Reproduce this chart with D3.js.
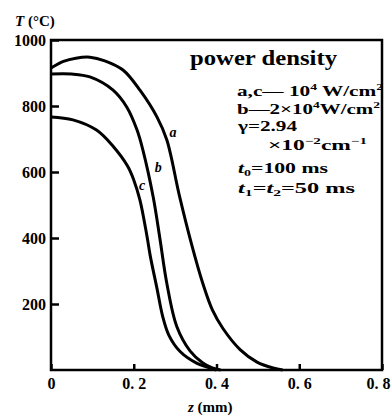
<!DOCTYPE html>
<html>
  <head>
    <meta charset="UTF-8">
    <script src="https://d3js.org/d3.v7.min.js"></script>
    <style>
        body {
            margin: 0;
            background: #fff;
        }
        svg {
            display: block;
        }
        text {
            font-family: "Liberation Serif", "DejaVu Serif", serif;
            font-weight: bold;
            fill: #000;
        }
        .tick text {
            font-size: 16px;
        }
        .tick line {
            stroke: #000;
            stroke-width: 2.5px;
        }
        .curve {
            fill: none;
            stroke: #000;
            stroke-width: 3px;
        }
    </style>
  </head>
  <body>
    <script>
        // curve a (10^4 W/cm2, a,c series), b (2x10^4 W/cm2), c
        let aZ = [0, 0.03, 0.06, 0.094, 0.13, 0.174, 0.215, 0.256, 0.28, 0.31, 0.34, 0.367, 0.39, 0.416, 0.457, 0.498, 0.537, 0.56]
        let aT = [915, 935, 945, 948, 937, 909, 848, 767, 697, 530, 380, 262, 182, 125, 62, 24, 6, 0]
        let bZ = [0, 0.05, 0.094, 0.15, 0.183, 0.208, 0.222, 0.247, 0.263, 0.28, 0.304, 0.336, 0.367, 0.39, 0.41]
        let bT = [897, 897, 888, 848, 797, 727, 667, 524, 400, 262, 132, 58, 21, 6, 0]
        let cZ = [0, 0.053, 0.11, 0.15, 0.185, 0.2, 0.215, 0.232, 0.24, 0.256, 0.27, 0.285, 0.312, 0.353, 0.384, 0.4]
        let cT = [767, 758, 727, 678, 618, 576, 515, 405, 345, 248, 162, 105, 56, 20, 6, 0]

        let curveNames = ['a', 'b', 'c']
        let labelZ = [0.295, 0.259, 0.22]
        let labelT = [706, 600, 545]

        let xTicks = [0, 0.2, 0.4, 0.6, 0.8]
        let xTickLabels = ['0', '0. 2', '0. 4', '0. 6', '0. 8']
        let yTicks = [200, 400, 600, 800, 1000]

        let legendLines = [
            [['a,c— 10'], ['4', 'sup'], [' W/cm'], ['2', 'sup']],
            [['b—2×10'], ['4', 'sup'], ['W/cm'], ['2', 'sup']],
            [['γ=2.94']],
            [['×10'], ['−2', 'sup'], ['cm'], ['−1', 'sup']],
            [['t'], ['0', 'sub'], ['=100 ms']],
            [['t'], ['1', 'sub'], ['=t'], ['2', 'sub'], ['=50 ms']]
        ]
        let legendX = [237, 237, 238, 268, 238, 238]
        let legendY = [96, 114, 131, 150, 173, 193]
        let legendW = [146, 143, 59, 99, 90, 117]

        let svgWidth = 392, svgHeight = 417
        let margin = {top: 40, right: 10, bottom: 47, left: 51}
        let width = svgWidth - margin.left - margin.right
        let height = svgHeight - margin.top - margin.bottom

        let x = d3.scaleLinear().domain([0, 0.8]).range([0, width])
        let y = d3.scaleLinear().domain([0, 1000]).range([height, 0])

        let svg = d3.select('body')
            .append('svg')
            .attr('width', svgWidth)
            .attr('height', svgHeight)

        let g = svg.append('g')
            .attr('transform', `translate(${margin.left}, ${margin.top})`)

        // axes with inward ticks
        let xAxis = g.append('g')
            .attr('transform', `translate(0, ${height})`)
            .call(d3.axisBottom(x).tickValues(xTicks).tickSize(-6).tickPadding(8)
                .tickFormat((d, i) => xTickLabels[i]))
            .call(a => a.select('.domain').remove())
        // last label sits on the right edge, nudge it in
        xAxis.selectAll('.tick text').filter(d => d === 0.8).attr('dx', -4)

        g.append('g')
            .call(d3.axisLeft(y).tickValues(yTicks).tickSize(-8).tickPadding(5).tickFormat(d3.format('d')))
            .call(a => a.select('.domain').remove())

        g.append('rect')
            .attr('x', 0)
            .attr('y', 0)
            .attr('width', width)
            .attr('height', height)
            .attr('fill', 'none')
            .attr('stroke', '#000')
            .attr('stroke-width', 2.5)

        let line = d3.line()
            .x(d => x(d[0]))
            .y(d => y(d[1]))
            .curve(d3.curveCatmullRom.alpha(0.5))

        let series = [d3.zip(aZ, aT), d3.zip(bZ, bT), d3.zip(cZ, cT)]

        g.selectAll('.curve')
            .data(series)
            .enter()
            .append('path')
            .attr('class', 'curve')
            .attr('d', line)

        g.selectAll('.curveLabel')
            .data(curveNames)
            .enter()
            .append('text')
            .attr('class', 'curveLabel')
            .attr('x', (d, i) => x(labelZ[i]))
            .attr('y', (d, i) => y(labelT[i]))
            .attr('text-anchor', 'middle')
            .style('font-size', '14px')
            .style('font-style', 'italic')
            .text(d => d)

        // legend block
        g.append('text')
            .attr('x', 190 - margin.left)
            .attr('y', 65 - margin.top)
            .attr('textLength', 147)
            .attr('lengthAdjust', 'spacingAndGlyphs')
            .style('font-size', '20px')
            .text('power density')

        legendLines.forEach((parts, i) => {
            let t = g.append('text')
                .attr('x', legendX[i] - margin.left)
                .attr('y', legendY[i] - margin.top)
                .attr('textLength', legendW[i])
                .attr('lengthAdjust', 'spacingAndGlyphs')
                .style('font-size', '14px')
            let shift = 0
            parts.forEach(p => {
                let target = p[1] === 'sup' ? -6 : p[1] === 'sub' ? 3 : 0
                t.append('tspan')
                    .attr('dy', target - shift)
                    .style('font-size', p[1] ? '9px' : '14px')
                    .style('font-style', p[0] === 't' || p[0] === '=t' ? 'italic' : 'normal')
                    .text(p[0])
                shift = target
            })
        })

        // axis titles
        let yTitle = svg.append('text')
            .attr('x', 15)
            .attr('y', 26)
            .style('font-size', '15px')
        yTitle.append('tspan').style('font-style', 'italic').text('T')
        yTitle.append('tspan').text(' (°C)')

        let xTitle = svg.append('text')
            .attr('x', 188)
            .attr('y', 412)
            .style('font-size', '15px')
        xTitle.append('tspan').style('font-style', 'italic').text('z')
        xTitle.append('tspan').text(' (mm)')
    </script>
  </body>
</html>
